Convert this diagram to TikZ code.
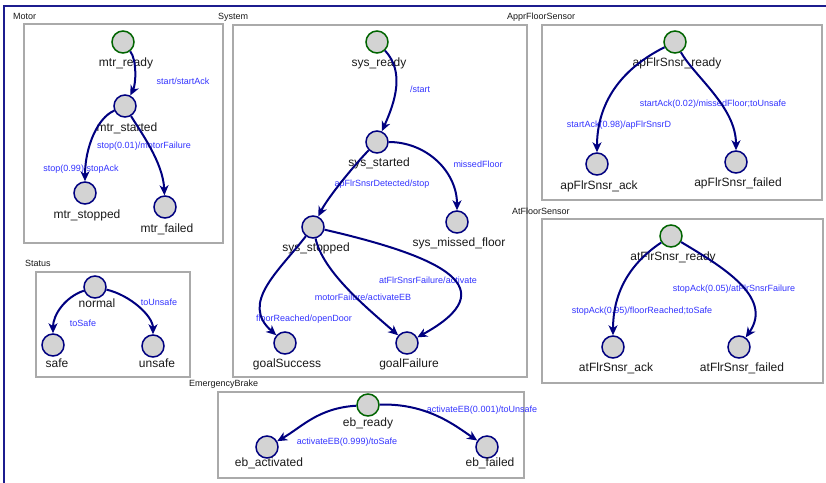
\documentclass[tikz,border=0pt]{standalone}
\usepackage{fontspec}
\setmainfont{Liberation Sans}
\usetikzlibrary{arrows.meta}
\definecolor{stb}{HTML}{000080}
\definecolor{stf}{HTML}{D3D3D3}
\definecolor{ing}{HTML}{006400}
\definecolor{edc}{HTML}{000080}
\definecolor{elc}{HTML}{3333FF}
\definecolor{boxc}{HTML}{AAAAAA}
\definecolor{frm}{HTML}{1C1C8E}
\definecolor{txt}{HTML}{1A1A1A}
\begin{document}
\begin{tikzpicture}[x=1pt,y=-1pt,
  st/.style={circle, draw=stb, fill=stf, line width=1.5pt, minimum size=22pt, inner sep=0pt},
  ini/.style={st, draw=ing},
  lb/.style={font=\fontsize{12}{14}\selectfont, text=txt, inner sep=0pt, text height=9pt, text depth=3pt},
  el/.style={font=\fontsize{9}{11}\selectfont, text=elc, inner sep=0pt},
  ttl/.style={font=\fontsize{9}{11}\selectfont, text=txt, inner sep=0pt, anchor=west},
  box/.style={draw=boxc, line width=2pt},
  tr/.style={draw=edc, line width=2pt, -{Stealth[length=10pt,width=9pt,inset=3pt]}}]
\useasboundingbox (0,0) rectangle (826,482);
\fill[white] (0,0) rectangle (826,482);
\draw[frm, line width=2pt] (4,490) -- (4,6) -- (830,6);

% containers
\draw[box] (24,24) rectangle (223,243);
\draw[box] (233,25) rectangle (527,377);
\draw[box] (542,25) rectangle (822,200);
\draw[box] (542,219) rectangle (823,383);
\draw[box] (36,272) rectangle (190,377);
\draw[box] (218,392) rectangle (524,478);
\node[ttl] (t-m) at (13,16.5) {Motor};
\node[ttl] (t-s) at (218,17) {System};
\node[ttl] (t-a) at (507,17) {ApprFloorSensor};
\node[ttl] (t-at) at (512,211) {AtFloorSensor};
\node[ttl] (t-st) at (25,263.5) {Status};
\node[ttl] (t-eb) at (189,384) {EmergencyBrake};

% Motor
\node[ini] (mr) at (123,42) {};
\node[st] (ms) at (125,106) {};
\node[st] (mst) at (85,193) {};
\node[st] (mf) at (165,207) {};
\node[lb] (mr-l) at (126,63) {mtr\_ready};
\node[lb] (ms-l) at (127,128) {mtr\_started};
\node[lb] (mst-l) at (87,215) {mtr\_stopped};
\node[lb] (mf-l) at (167,229) {mtr\_failed};
\node[el] (e1) at (183,81) {start/startAck};
\node[el] (e2) at (81,169) {stop(0.99)/stopAck};
\node[el] (e3) at (144,146) {stop(0.01)/motorFailure};
\draw[tr] (mr) .. controls +(14,18) and +(11,-22) .. (ms);
\draw[tr] (ms) .. controls +(-28,12) and +(0,-45) .. (mst);
\draw[tr] (ms) .. controls +(15,25) and +(-2,-45) .. (mf);

% System
\node[ini] (sr) at (377,42) {};
\node[st] (sst) at (377,142) {};
\node[st] (sstop) at (313,227) {};
\node[st] (smf) at (457,222) {};
\node[st] (gs) at (285,343) {};
\node[st] (gf) at (407,343) {};
\node[lb] (sr-l) at (379,63) {sys\_ready};
\node[lb] (sst-l) at (379,163) {sys\_started};
\node[lb] (sstop-l) at (316,248) {sys\_stopped};
\node[lb] (smf-l) at (459,243) {sys\_missed\_floor};
\node[lb] (gs-l) at (287,364) {goalSuccess};
\node[lb] (gf-l) at (409,364) {goalFailure};
\node[el] (e4) at (420,89) {/start};
\node[el] (e5) at (478,164) {missedFloor};
\node[el] (e6) at (382,184) {apFlrSnsrDetected/stop};
\node[el] (e7) at (304,319) {floorReached/openDoor};
\node[el] (e8) at (363,297) {motorFailure/activateEB};
\node[el] (e9) at (428,280) {atFlrSnsrFailure/activate};
\draw[tr] (sr) .. controls +(28,30) and +(18,-40) .. (sst);
\draw[tr] (sst) .. controls +(50,0) and +(0,-50) .. (smf);
\draw[tr] (sst) .. controls +(-20,20) and +(15,-30) .. (sstop);
\draw[tr] (sstop) .. controls +(-35,45) and +(-45,-40) .. (gs);
\draw[tr] (sstop) .. controls +(10,45) and +(-40,-35) .. (gf);
\draw[tr] (sstop) .. controls +(130,30) and +(100,-55) .. (gf);

% ApprFloorSensor
\node[ini] (ar) at (675,42) {};
\node[st] (aa) at (597,164) {};
\node[st] (af) at (736,162) {};
\node[lb] (ar-l) at (677,63) {apFlrSnsr\_ready};
\node[lb] (aa-l) at (599,186) {apFlrSnsr\_ack};
\node[lb] (af-l) at (738,183) {apFlrSnsr\_failed};
\node[el] (e10) at (619,125) {startAck(0.98)/apFlrSnsrD};
\node[el] (e11) at (713,104) {startAck(0.02)/missedFloor;toUnsafe};
\draw[tr] (ar) .. controls +(-60,30) and +(0,-55) .. (aa);
\draw[tr] (ar) .. controls +(20,35) and +(0,-55) .. (af);

% AtFloorSensor
\node[ini] (atr) at (671,236) {};
\node[st] (ata) at (613,347) {};
\node[st] (atf) at (739,347) {};
\node[lb] (atr-l) at (673,257) {atFlrSnsr\_ready};
\node[lb] (ata-l) at (616,368) {atFlrSnsr\_ack};
\node[lb] (atf-l) at (742,368) {atFlrSnsr\_failed};
\node[el] (e12) at (642,311) {stopAck(0.95)/floorReached;toSafe};
\node[el] (e13) at (734,289) {stopAck(0.05)/atFlrSnsrFailure};
\draw[tr] (atr) .. controls +(-45,30) and +(0,-50) .. (ata);
\draw[tr] (atr) .. controls +(50,30) and +(35,-50) .. (atf);

% Status
\node[st] (nm) at (95,287) {};
\node[st] (sf) at (53,345) {};
\node[st] (us) at (153,346) {};
\node[lb] (nm-l) at (97,304) {normal};
\node[lb] (sf-l) at (57,364) {safe};
\node[lb] (us-l) at (157,364) {unsafe};
\node[el] (e14) at (83,323) {toSafe};
\node[el] (e15) at (159,302) {toUnsafe};
\draw[tr] (nm) .. controls +(-30,10) and +(0,-30) .. (sf);
\draw[tr] (nm) .. controls +(35,8) and +(0,-30) .. (us);

% EmergencyBrake
\node[ini] (er) at (368,405) {};
\node[st] (ea) at (267,447) {};
\node[st] (ef) at (487,447) {};
\node[lb] (er-l) at (368,423) {eb\_ready};
\node[lb] (ea-l) at (269,463) {eb\_activated};
\node[lb] (ef-l) at (490,463) {eb\_failed};
\node[el] (e16) at (347,442) {activateEB(0.999)/toSafe};
\node[el] (e17) at (482,410) {activateEB(0.001)/toUnsafe};
\draw[tr] (er) .. controls +(-50,3) and +(35,-20) .. (ea);
\draw[tr] (er) .. controls +(60,-2) and +(-30,-20) .. (ef);
\end{tikzpicture}
\end{document}
